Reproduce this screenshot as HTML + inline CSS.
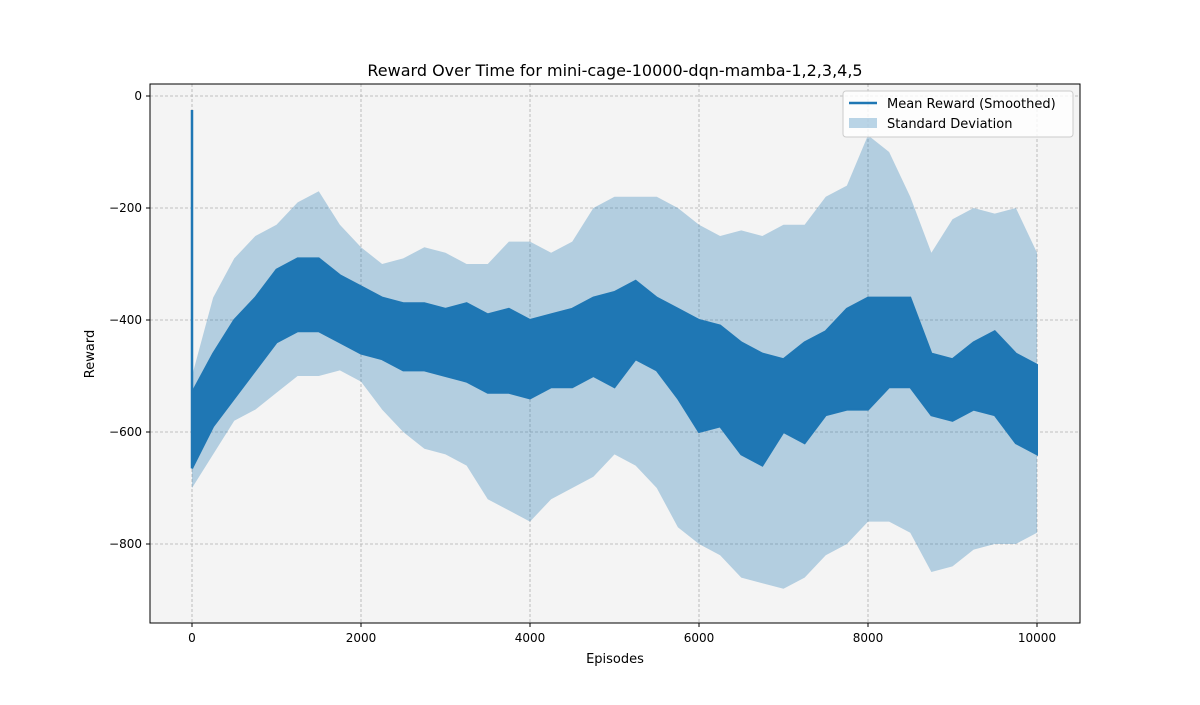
<!DOCTYPE html>
<html><head><meta charset="utf-8"><style>
body{margin:0;background:#fff;font-family:"Liberation Sans","DejaVu Sans",sans-serif}
svg text{font-family:"DejaVu Sans","Liberation Sans",sans-serif;fill:#000}
</style></head><body>
<svg id="chart" width="1200" height="700" viewBox="0 0 1200 700" xmlns="http://www.w3.org/2000/svg">
<rect width="1200" height="700" fill="#fff"/>
<rect x="150" y="84" width="930" height="539" fill="#f4f4f4"/>
<g id="grid"></g>
<g id="marks"></g>
<rect x="150" y="84" width="930" height="539" fill="none" stroke="#000" stroke-width="1"/>
<g id="axes"></g>
<text x="615" y="76" font-size="16" text-anchor="middle">Reward Over Time for mini-cage-10000-dqn-mamba-1,2,3,4,5</text>
<text x="615" y="663" font-size="13" text-anchor="middle">Episodes</text>
<text x="94" y="354" font-size="13" text-anchor="middle" transform="rotate(-90 94 354)">Reward</text>
<g>
<rect x="843" y="91" width="230" height="46" rx="3" fill="#fff" fill-opacity="0.8" stroke="#ccc"/>
<line x1="849" y1="103" x2="877" y2="103" stroke="#1f77b4" stroke-width="2.5"/>
<text x="887" y="108" font-size="13">Mean Reward (Smoothed)</text>
<rect x="849" y="118" width="28" height="10" fill="#1f77b4" fill-opacity="0.3"/>
<text x="887" y="128" font-size="13">Standard Deviation</text>
</g>
</svg>
<script>
const episodes=[0,250,500,750,1000,1250,1500,1750,2000,2250,2500,2750,3000,3250,3500,3750,4000,4250,4500,4750,5000,5250,5500,5750,6000,6250,6500,6750,7000,7250,7500,7750,8000,8250,8500,8750,9000,9250,9500,9750,10000];
const meanHi=[-530,-460,-400,-360,-310,-290,-290,-320,-340,-360,-370,-370,-380,-370,-390,-380,-400,-390,-380,-360,-350,-330,-360,-380,-400,-410,-440,-460,-470,-440,-420,-380,-360,-360,-360,-460,-470,-440,-420,-460,-480];
const meanLo=[-665,-590,-540,-490,-440,-420,-420,-440,-460,-470,-490,-490,-500,-510,-530,-530,-540,-520,-520,-500,-520,-470,-490,-540,-600,-590,-640,-660,-600,-620,-570,-560,-560,-520,-520,-570,-580,-560,-570,-620,-640];
const stdHi=[-500,-360,-290,-250,-230,-190,-170,-230,-270,-300,-290,-270,-280,-300,-300,-260,-260,-280,-260,-200,-180,-180,-180,-200,-230,-250,-240,-250,-230,-230,-180,-160,-70,-100,-180,-280,-220,-200,-210,-200,-280];
const stdLo=[-700,-640,-580,-560,-530,-500,-500,-490,-510,-560,-600,-630,-640,-660,-720,-740,-760,-720,-700,-680,-640,-660,-700,-770,-800,-820,-860,-870,-880,-860,-820,-800,-760,-760,-780,-850,-840,-810,-800,-800,-780];
const spikeValue=-25;
const xTicks=[0,2000,4000,6000,8000,10000];
const yTicks=[0,-200,-400,-600,-800];
const NS='http://www.w3.org/2000/svg';
const X=v=>192+v*0.0845;
const Y=v=>96-v*0.56;
function mk(tag,attrs,parent){const e=document.createElementNS(NS,tag);for(const k in attrs)e.setAttribute(k,attrs[k]);parent.appendChild(e);return e;}
const grid=document.getElementById('grid'),axes=document.getElementById('axes'),marks=document.getElementById('marks');
xTicks.forEach(t=>{
 const g=mk('line',{x1:X(t),x2:X(t),y1:84,y2:623,stroke:'#b0b0b0','stroke-dasharray':'3,2','stroke-width':0.8},grid);
 
 
 mk('line',{x1:X(t),x2:X(t),y1:623,y2:627,stroke:'#000'},axes);
 const l=mk('text',{x:X(t),y:642,'font-size':12,'text-anchor':'middle'},axes);
 l.textContent=t;
 
 
});
yTicks.forEach(t=>{
 const g=mk('line',{x1:150,x2:1080,y1:Y(t),y2:Y(t),stroke:'#b0b0b0','stroke-dasharray':'3,2','stroke-width':0.8},grid);
 
 
 mk('line',{x1:146,x2:150,y1:Y(t),y2:Y(t),stroke:'#000'},axes);
 const l=mk('text',{x:142,y:Y(t)+4,'font-size':12,'text-anchor':'end'},axes);
 l.textContent=t===0?'0':'\u2212'+Math.abs(t);
 
 
});
function band(hi,lo){
 let d='M'+episodes.map((e,i)=>X(e)+','+Y(hi[i])).join(' L');
 for(let i=episodes.length-1;i>=0;i--)d+=' L'+X(episodes[i])+','+Y(lo[i]);
 return d+'Z';
}
const sb=mk('path',{d:band(stdHi,stdLo),fill:'#1f77b4','fill-opacity':0.3},marks);


const mb=mk('path',{d:band(meanHi,meanLo),fill:'#1f77b4',stroke:'#1f77b4','stroke-width':2},marks);


const sp=mk('line',{x1:X(0),x2:X(0),y1:Y(spikeValue),y2:Y(meanLo[0]),stroke:'#1f77b4','stroke-width':2.5},marks);


</script>
</body></html>
